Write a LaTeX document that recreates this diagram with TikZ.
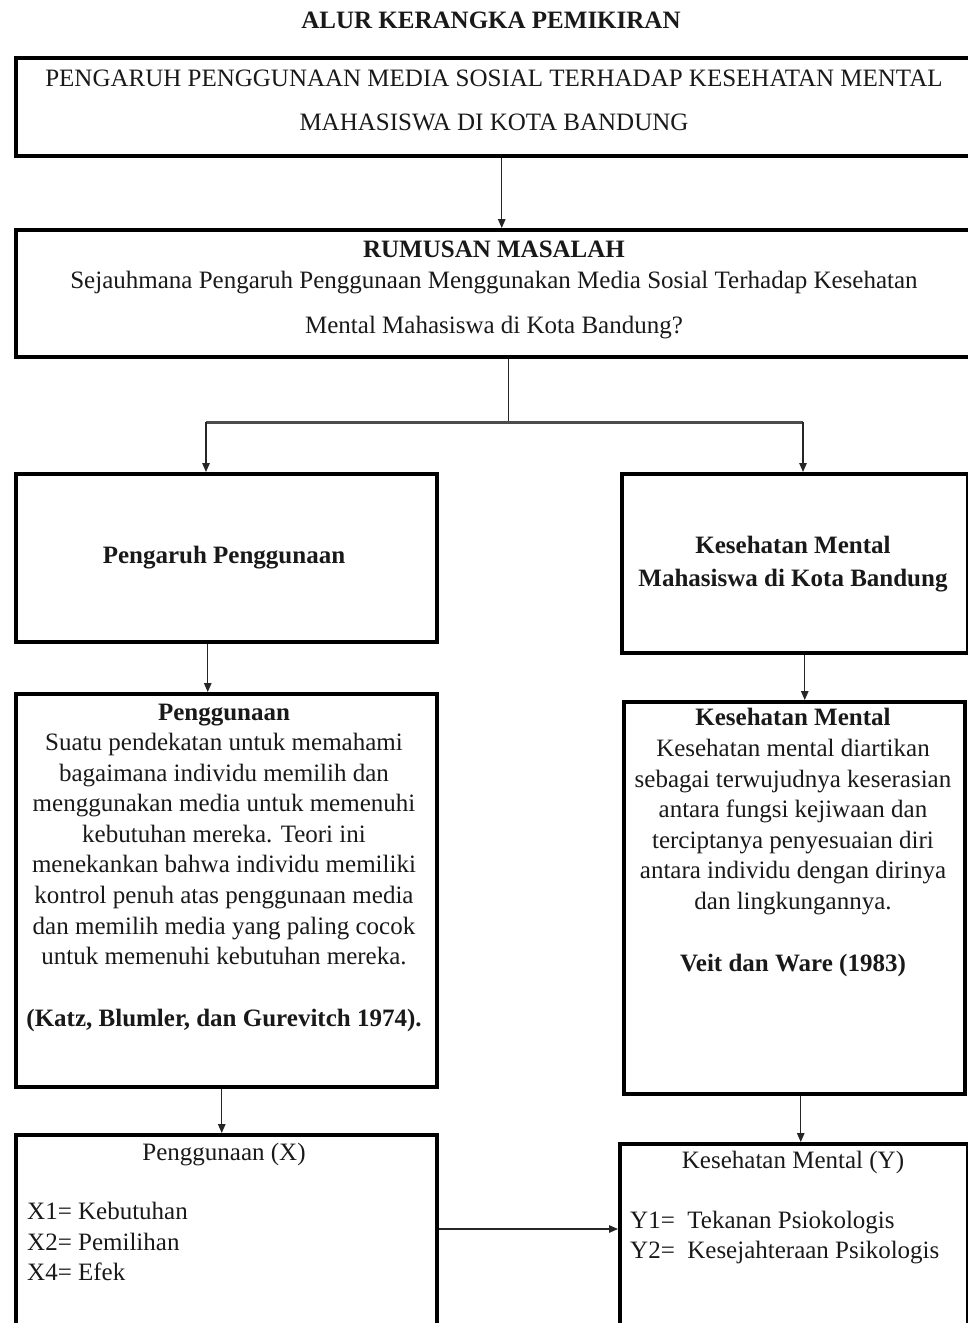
\documentclass[tikz,border=0pt]{standalone}
\usepackage{fontspec}
\setmainfont{Liberation Serif}
\usetikzlibrary{arrows.meta}
\begin{document}
\begin{tikzpicture}[x=1pt,y=-1pt,
  boxstyle/.style={draw=black, line width=3.5pt, rectangle, inner sep=0pt, anchor=north west},
  arr/.style={draw=black!85, line width=1.3pt, -{Triangle[length=9pt,width=7.5pt]}},
  conn/.style={draw=black!85, line width=1.3pt},
  body/.style={inner sep=0pt, font=\fontsize{25}{30.6}\selectfont, align=center, text=black!90},
]
\useasboundingbox (0,0) rectangle (968,1323);
\clip (0,0) rectangle (968,1323);

% boxes
\node[boxstyle, minimum width=972pt, minimum height=98pt] (b1) at (14,56) {};
\node[boxstyle, minimum width=986pt, minimum height=127pt] (b2) at (14,228) {};
\node[boxstyle, minimum width=421pt, minimum height=168pt] (b3l) at (14,472) {};
\node[boxstyle, minimum width=346pt, minimum height=179pt] (b3r) at (620,472) {};
\node[boxstyle, minimum width=421pt, minimum height=393pt] (b4l) at (14,692) {};
\node[boxstyle, minimum width=341pt, minimum height=392pt] (b4r) at (622,700) {};
\node[boxstyle, minimum width=421pt, minimum height=220pt] (b5l) at (14,1133) {};
\node[boxstyle, minimum width=348pt, minimum height=210pt] (b5r) at (618,1142) {};

% texts
\node[body, anchor=base] (title) at (491,28) {\bfseries ALUR KERANGKA PEMIKIRAN};
\node[body, font=\fontsize{25}{44}\selectfont, anchor=north] (t1) at (494,69.5)
  {PENGARUH PENGGUNAAN MEDIA SOSIAL TERHADAP KESEHATAN MENTAL\\MAHASISWA DI KOTA BANDUNG};
\node[body, anchor=base] (t2h) at (494,257) {\bfseries RUMUSAN MASALAH};
\node[body, font=\fontsize{25}{45}\selectfont, anchor=north] (t2) at (494,271)
  {Sejauhmana Pengaruh Penggunaan Menggunakan Media Sosial Terhadap Kesehatan\\Mental Mahasiswa di Kota Bandung?};
\node[body, anchor=base] (t3l) at (224,563) {\bfseries Pengaruh Penggunaan};
\node[body, font=\fontsize{25}{32.5}\selectfont\bfseries, anchor=north] (t3r) at (793,536)
  {Kesehatan Mental\\Mahasiswa di Kota Bandung};
\node[body, anchor=base] (t4lh) at (224,720) {\bfseries Penggunaan};
\node[body, anchor=north] (t4l) at (224,733)
  {Suatu pendekatan untuk memahami\\bagaimana individu memilih dan\\menggunakan media untuk memenuhi\\kebutuhan mereka. Teori ini\\menekankan bahwa individu memiliki\\kontrol penuh atas penggunaan media\\dan memilih media yang paling cocok\\untuk memenuhi kebutuhan mereka.};
\node[body, anchor=base] (t4lc) at (224,1026) {\bfseries (Katz, Blumler, dan Gurevitch 1974).};
\node[body, anchor=base] (t4rh) at (793,725) {\bfseries Kesehatan Mental};
\node[body, anchor=north] (t4r) at (793,739)
  {Kesehatan mental diartikan\\sebagai terwujudnya keserasian\\antara fungsi kejiwaan dan\\terciptanya penyesuaian diri\\antara individu dengan dirinya\\dan lingkungannya.};
\node[body, anchor=base] (t4rc) at (793,971) {\bfseries Veit dan Ware (1983)};
\node[body, anchor=base] (t5lh) at (224,1160) {Penggunaan (X)};
\node[body, font=\fontsize{25}{30.5}\selectfont, align=left, anchor=north west] (t5l) at (27,1202)
  {X1= Kebutuhan\\X2= Pemilihan\\X4= Efek};
\node[body, anchor=base] (t5rh) at (793,1168) {Kesehatan Mental (Y)};
\node[body, font=\fontsize{25}{30}\selectfont, align=left, anchor=north west] (t5r) at (630,1211)
  {Y1=\ \ Tekanan Psiokologis\\Y2=\ \ Kesejahteraan Psikologis};

% connectors
\draw[arr] (b1.south) -- (b1.south |- b2.north);
\coordinate (j) at (b2.south |- 0,422);
\draw[conn] (b2.south) -- (j);
\coordinate (jl) at (206,422);
\coordinate (jr) at (803,422);
\draw[draw=black!70, line width=3pt] (jl) -- (jr);
\draw[arr] (jl) -- (jl |- b3l.north);
\draw[arr] (jr) -- (jr |- b3r.north);
\draw[arr] ([xshift=-18.5pt]b3l.south) -- ([xshift=-18.5pt]b4l.north);
\draw[arr] ([xshift=10pt]b3r.south) -- ([xshift=10pt]b3r.south |- b4r.north);
\draw[arr] ([xshift=-4.5pt]b4l.south) -- ([xshift=-4.5pt]b5l.north);
\draw[arr] ([xshift=6.5pt]b4r.south) -- ([xshift=6.5pt]b4r.south |- b5r.north);
\draw[arr] (b5l.east |- 0,1229) -- (b5r.west |- 0,1229);
\end{tikzpicture}
\end{document}
